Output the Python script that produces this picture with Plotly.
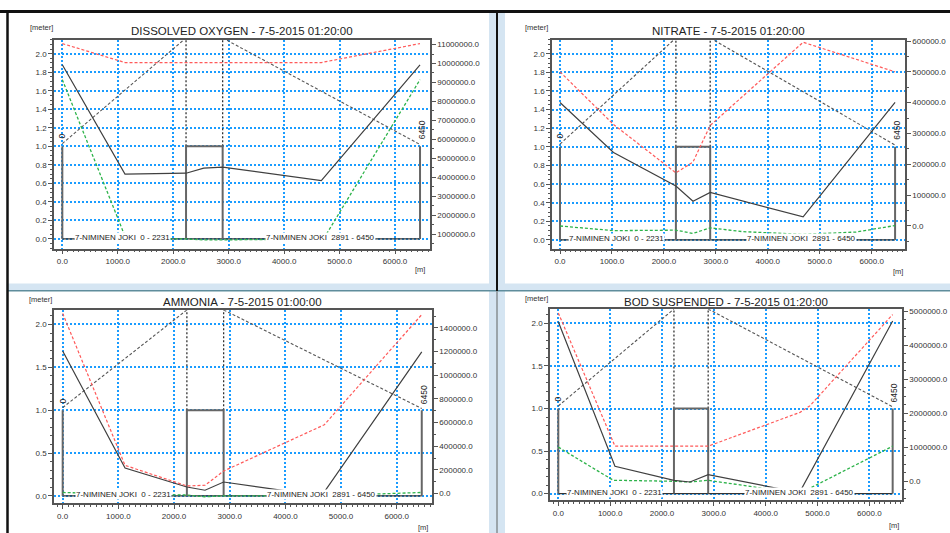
import plotly.graph_objects as go

W, H = 950, 533

# ---------------- data ----------------
TITLES = ["DISSOLVED OXYGEN - 7-5-2015 01:20:00",
          "NITRATE - 7-5-2015 01:20:00",
          "AMMONIA - 7-5-2015 01:00:00",
          "BOD SUSPENDED - 7-5-2015 01:20:00"]

BRANCH_LABELS = ["7-NIMINEN JOKI  0 - 2231", "7-NIMINEN JOKI  2891 - 6450"]
BRANCH_LABEL_X = [1090, 4650]
END_LABELS = ["0", "6450"]

# geometry (chainage m, level m)
END_X = [0, 6450]
END_TOP = 1.0
STRUCT_X = [2231, 2891]
STRUCT_TOP = 1.0
BED_X = [0, 6450]
BED_Y = [0.0, 0.0]
BANK_L_X = [0, 2231]
BANK_L_Y = [1.03, 2.17]
BANK_R_X = [2891, 6450]
BANK_R_Y = [2.17, 1.02]
TOP_LEVEL = 2.17

# Dissolved oxygen
DO_BLACK_X = [0, 1130, 2231, 2550, 2891, 4670, 6450]
DO_BLACK_Y = [1.88, 0.70, 0.71, 0.765, 0.775, 0.63, 1.88]
DO_GREEN_X = [0, 1150, 2231, 2550, 2891, 4710, 6450]
DO_GREEN_Y = [1.72, 0.0, 0.0, -0.01, -0.01, 0.0, 1.72]
DO_RED_X = [0, 1130, 2231, 2891, 4670, 6450]
DO_RED_Y = [11050000, 10050000, 10050000, 10050000, 10050000, 11050000]

# Nitrate
NO3_BLACK_X = [0, 1030, 2231, 2560, 2891, 4680, 6450]
NO3_BLACK_Y = [1.477, 0.94, 0.58, 0.416, 0.51, 0.249, 1.477]
NO3_GREEN_X = [0, 1030, 2231, 2560, 2891, 3500, 4680, 5700, 6450]
NO3_GREEN_Y = [0.15, 0.10, 0.105, 0.07, 0.13, 0.09, 0.06, 0.085, 0.155]
NO3_RED_X = [0, 1030, 2231, 2560, 2891, 4680, 6450]
NO3_RED_Y = [500000, 329000, 172000, 207000, 326000, 596000, 500000]

# Ammonia
NH4_BLACK_X = [0, 1120, 2231, 2557, 2891, 4650, 6450]
NH4_BLACK_Y = [1.69, 0.325, 0.104, 0.066, 0.162, 0.0, 1.68]
NH4_GREEN_X = [0, 1120, 2231, 2557, 2891, 4650, 6450]
NH4_GREEN_Y = [0.04, 0.02, 0.01, -0.01, 0.0, 0.0, 0.04]
NH4_RED_X = [0, 1120, 2231, 2557, 2891, 4700, 6450]
NH4_RED_Y = [1522000, 238000, 64000, 70000, 190000, 581000, 1512000]

# BOD suspended
BOD_BLACK_X = [0, 1093, 2231, 2540, 2891, 4650, 6450]
BOD_BLACK_Y = [2.02, 0.32, 0.156, 0.136, 0.222, 0.01, 2.03]
BOD_GREEN_X = [0, 1061, 2231, 2540, 2891, 4650, 6450]
BOD_GREEN_Y = [0.546, 0.156, 0.144, 0.136, 0.156, 0.0, 0.557]
BOD_RED_X = [0, 1093, 2891, 4662, 4855, 6450]
BOD_RED_Y = [4951000, 1033000, 1033000, 2027000, 2220000, 4903000]

SERIES = [
    (DO_BLACK_X, DO_BLACK_Y, DO_GREEN_X, DO_GREEN_Y, DO_RED_X, DO_RED_Y),
    (NO3_BLACK_X, NO3_BLACK_Y, NO3_GREEN_X, NO3_GREEN_Y, NO3_RED_X, NO3_RED_Y),
    (NH4_BLACK_X, NH4_BLACK_Y, NH4_GREEN_X, NH4_GREEN_Y, NH4_RED_X, NH4_RED_Y),
    (BOD_BLACK_X, BOD_BLACK_Y, BOD_GREEN_X, BOD_GREEN_Y, BOD_RED_X, BOD_RED_Y),
]

# ---------------- layout per panel (pixel boxes) ----------------
PANELS = [
    dict(box=(54, 37, 430, 247), xr=[-150, 6630], yl=[-0.104, 2.15], ldt=0.2, lmin=0.05,
         yr=[230000, 11250000], rdt=1000000, rmin=500000, r0=1000000,
         title_y=28, meter=(41, 25), m=(420, 268)),
    dict(box=(552, 37, 905, 247), xr=[-154, 6641], yl=[-0.093, 2.15], ldt=0.2, lmin=0.05,
         yr=[-74000, 604000], rdt=100000, rmin=50000, r0=0,
         title_y=28, meter=(536, 25), m=(898, 270)),
    dict(box=(54, 309, 432, 503), xr=[-156, 6634], yl=[-0.085, 2.166], ldt=0.5, lmin=0.1,
         yr=[-81500, 1548700], rdt=200000, rmin=100000, r0=0,
         title_y=301, meter=(40, 298), m=(423, 527)),
    dict(box=(550, 308, 902, 500), xr=[-160, 6630], yl=[-0.078, 2.167], ldt=0.5, lmin=0.1,
         yr=[-556000, 5058000], rdt=1000000, rmin=250000, r0=0,
         title_y=301, meter=(536, 297), m=(894, 525)),
]

FONT = "Liberation Sans, Arial, sans-serif"
GRID = "#1a9cff"
AXC = "#555555"
TXT = "#333333"


def nm(prefix, n):
    return prefix if n == 1 else f"{prefix}{n}"


def px(x):
    return x / W


def py(y):
    return 1 - y / H


fig = go.Figure()
annotations = []
layout = {}

for k, (p, s) in enumerate(zip(PANELS, SERIES), start=1):
    xa = nm("x", k)
    yla = nm("y", 2 * k - 1)
    yra = nm("y", 2 * k)
    bkx, bky, gx, gy, rx, ry = s
    x0, y0, x1, y1 = p["box"]

    def add(x, y, color, width, dash="solid", yaxis=yla):
        fig.add_trace(go.Scatter(x=x, y=y, mode="lines", xaxis=xa, yaxis=yaxis,
                                 line=dict(color=color, width=width, dash=dash),
                                 hoverinfo="skip", showlegend=False, cliponaxis=True))

    # geometry
    add(BANK_L_X, BANK_L_Y, "#555555", 1.1, "3px,2px")
    add(BANK_R_X, BANK_R_Y, "#555555", 1.1, "3px,2px")
    for sx in STRUCT_X:
        add([sx, sx], [STRUCT_TOP, TOP_LEVEL], "#333333", 1.3, "2px,2px")
    add(BED_X, BED_Y, "#333333", 1.3)
    for ex in END_X:
        add([ex, ex], [0, END_TOP], "#666666", 2.0)
    add([STRUCT_X[0], STRUCT_X[0], STRUCT_X[1], STRUCT_X[1]],
        [0, STRUCT_TOP, STRUCT_TOP, 0], "#666666", 2.0)
    # series
    add(gx, gy, "#2db34a", 1.3, "3px,2px")
    add(bkx, bky, "#404040", 1.2)
    add(rx, ry, "#ff5a5a", 1.2, "3px,2px", yaxis=yra)

    layout[nm("xaxis", k)] = dict(
        domain=[px(x0), px(x1)], anchor=yla, range=p["xr"],
        tickmode="linear", tick0=0, dtick=1000, tickformat=".1f",
        showgrid=True, gridcolor=GRID, griddash="2px,2px", gridwidth=1.5,
        showline=True, linecolor=AXC, linewidth=1.5, mirror=True,
        ticks="outside", ticklen=4, tickcolor=AXC,
        minor=dict(dtick=100, tick0=0, ticklen=2, tickcolor=AXC, ticks="outside", showgrid=False),
        zeroline=False, tickfont=dict(family=FONT, size=8, color=TXT),
    )
    layout[nm("yaxis", 2 * k - 1)] = dict(
        domain=[py(y1), py(y0)], anchor=xa, range=p["yl"],
        tickmode="linear", tick0=0, dtick=p["ldt"], tickformat=".1f",
        showgrid=True, gridcolor=GRID, griddash="2px,2px", gridwidth=1.5,
        showline=True, linecolor=AXC, linewidth=1.5, mirror=False,
        ticks="outside", ticklen=4, tickcolor=AXC,
        minor=dict(dtick=p["lmin"], tick0=0, ticklen=2, tickcolor=AXC, ticks="outside", showgrid=False),
        zeroline=False, tickfont=dict(family=FONT, size=8, color=TXT),
    )
    layout[nm("yaxis", 2 * k)] = dict(
        overlaying=yla, anchor=xa, side="right", range=p["yr"],
        tickmode="linear", tick0=p["r0"], dtick=p["rdt"], tickformat=".1f",
        showgrid=False, showline=True, linecolor=AXC, linewidth=1.5,
        ticks="outside", ticklen=4, tickcolor=AXC,
        minor=dict(dtick=p["rmin"], tick0=p["r0"], ticklen=2, tickcolor=AXC, ticks="outside", showgrid=False),
        zeroline=False, tickfont=dict(family=FONT, size=8, color=TXT),
    )

    # title & units
    annotations.append(dict(text=TITLES[k - 1], xref="paper", yref="paper",
                            x=px((x0 + x1) / 2), y=py(p["title_y"]), showarrow=False,
                            xanchor="center", yanchor="middle",
                            font=dict(family=FONT, size=11.5, color="#222222")))
    annotations.append(dict(text="[meter]", xref="paper", yref="paper",
                            x=px(p["meter"][0]), y=py(p["meter"][1]), showarrow=False,
                            xanchor="center", yanchor="middle",
                            font=dict(family=FONT, size=7.5, color=TXT)))
    annotations.append(dict(text="[m]", xref="paper", yref="paper",
                            x=px(p["m"][0]), y=py(p["m"][1]), showarrow=False,
                            xanchor="center", yanchor="middle",
                            font=dict(family=FONT, size=7.5, color=TXT)))
    # branch labels
    for lab, lx in zip(BRANCH_LABELS, BRANCH_LABEL_X):
        annotations.append(dict(text=lab, xref=xa, yref=yla, x=lx, y=0, showarrow=False,
                                xanchor="center", yanchor="middle", yshift=1,
                                bgcolor="white", borderpad=0,
                                font=dict(family=FONT, size=8, color="#222222")))
    # end chainage labels
    for lab, ex, ey in zip(END_LABELS, [0, 6480], [1.11, 1.18]):
        annotations.append(dict(text=lab, xref=xa, yref=yla, x=ex, y=ey, showarrow=False,
                                textangle=-90, xanchor="center", yanchor="middle",
                                font=dict(family=FONT, size=8.5, color="#222222")))

# window chrome
shapes = [
    dict(type="rect", xref="paper", yref="paper", x0=px(489), x1=px(505), y0=0, y1=py(9),
         fillcolor="#d5e5f2", line=dict(width=0), layer="below"),
    dict(type="rect", xref="paper", yref="paper", x0=px(8), x1=1, y0=py(289), y1=py(282),
         fillcolor="#d5e5f2", line=dict(width=0), layer="below"),
    dict(type="line", xref="paper", yref="paper", x0=px(8), x1=1, y0=py(289.5), y1=py(289.5),
         line=dict(color="#5f8d9c", width=1.5)),
    dict(type="line", xref="paper", yref="paper", x0=px(497), x1=px(497), y0=py(290), y1=py(8),
         line=dict(color="#111111", width=2)),
    dict(type="line", xref="paper", yref="paper", x0=px(497), x1=px(497), y0=0, y1=py(290),
         line=dict(color="#9aa4aa", width=2)),
    dict(type="line", xref="paper", yref="paper", x0=0, x1=1, y0=py(8.5), y1=py(8.5),
         line=dict(color="#111111", width=3)),
    dict(type="line", xref="paper", yref="paper", x0=px(7.5), x1=px(7.5), y0=0, y1=py(8),
         line=dict(color="#111111", width=2.5)),
]

fig.update_layout(
    width=W, height=H, margin=dict(l=0, r=0, t=0, b=0),
    paper_bgcolor="white", plot_bgcolor="white",
    showlegend=False, annotations=annotations, shapes=shapes,
    font=dict(family=FONT, size=8, color=TXT),
)
fig.update_layout(layout)

fig.write_html("out.html", config={"displayModeBar": False},
               post_script="document.body.style.margin='0';document.body.style.overflow='hidden';")
